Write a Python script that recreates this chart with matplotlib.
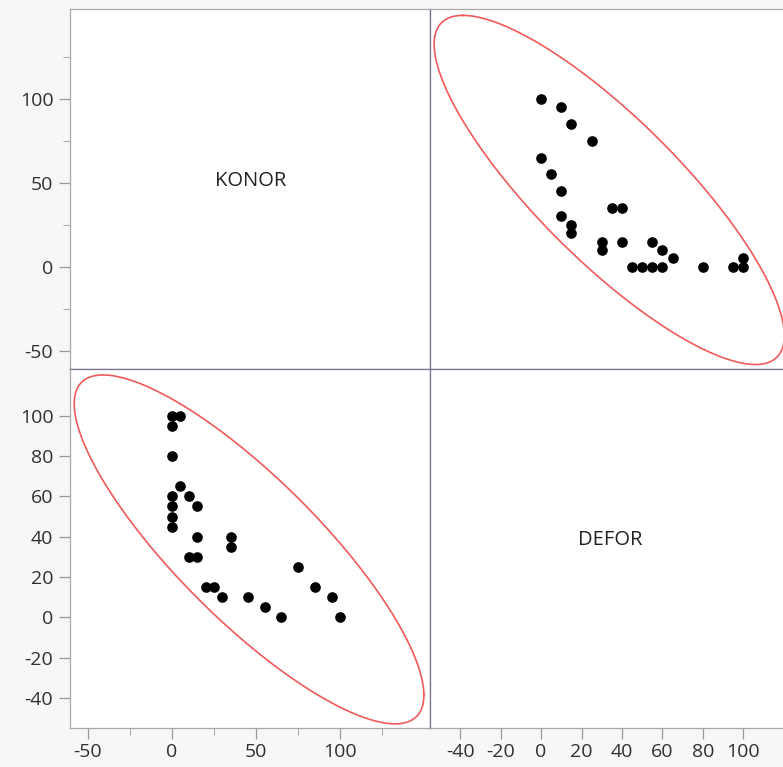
import numpy as np
import matplotlib.pyplot as plt

# Scores per respondent
konor = [100, 95, 85, 75, 65, 55, 45, 35, 35, 30, 25, 20, 15, 10, 15, 15, 10, 5,
         0, 0, 0, 0, 0, 0, 0, 5]
defor = [0, 10, 15, 25, 0, 5, 10, 35, 40, 10, 15, 15, 30, 30, 40, 55, 60, 65,
         45, 50, 55, 60, 80, 95, 100, 100]

# Density ellipse (centre, half extents, correlation) as KONOR / DEFOR
ell_center = (45.8, 33.7)
ell_half = (104.0, 86.6)
ell_rho = -0.835

konor_ticks = [-50, 0, 50, 100]
konor_minor = [-25, 25, 75, 125]
defor_ticks = [-40, -20, 0, 20, 40, 60, 80, 100]

konor_lim = (-60.7, 153.6)
defor_lim = (-54.8, 123.4)

plt.rcParams['font.family'] = ['Open Sans', 'DejaVu Sans']
plt.rcParams['axes.unicode_minus'] = False

t = np.linspace(0, 2 * np.pi, 400)
ell_k = ell_center[0] + ell_half[0] * np.cos(t)
ell_d = ell_center[1] + ell_half[1] * (ell_rho * np.cos(t) + np.sqrt(1 - ell_rho ** 2) * np.sin(t))

fig = plt.figure(figsize=(7.83, 7.67), dpi=100, facecolor='#f7f7f7')
L, M, R = 70 / 783, 430.3 / 783, 790.6 / 783
B, C, T = 39.3 / 767, 398.3 / 767, 758 / 767
ax_tl = fig.add_axes([L, C, M - L, T - C])
ax_tr = fig.add_axes([M, C, R - M, T - C])
ax_bl = fig.add_axes([L, B, M - L, C - B])
ax_br = fig.add_axes([M, B, R - M, C - B])

outer = '#a8a8a8'
inner = '#74748a'
for ax in (ax_tl, ax_tr, ax_bl, ax_br):
    ax.set_facecolor('white')
    for s in ax.spines.values():
        s.set_linewidth(0.9)
        s.set_color(inner)
    ax.tick_params(length=0, labelleft=False, labelbottom=False)

ax_tl.spines['top'].set_color(outer)
ax_tl.spines['left'].set_color(outer)
ax_tr.spines['top'].set_color(outer)
ax_bl.spines['left'].set_color(outer)
ax_bl.spines['bottom'].set_color(outer)
ax_br.spines['bottom'].set_color(outer)

# KONOR vs DEFOR
ax_tr.plot(ell_d, ell_k, color='#f05a5a', lw=1.2, zorder=2)
ax_tr.scatter(defor, konor, s=44, color='black', zorder=3)
ax_tr.set_xlim(defor_lim)
ax_tr.set_ylim(konor_lim)

# DEFOR vs KONOR
ax_bl.plot(ell_k, ell_d, color='#f05a5a', lw=1.2, zorder=2)
ax_bl.scatter(konor, defor, s=44, color='black', zorder=3)
ax_bl.set_xlim(konor_lim)
ax_bl.set_ylim(defor_lim)

ax_tl.set_xlim(konor_lim)
ax_tl.set_ylim(konor_lim)
ax_br.set_xlim(defor_lim)
ax_br.set_ylim(defor_lim)

ax_tl.text(0.5, 0.522, 'KONOR', transform=ax_tl.transAxes, ha='center', va='center',
           fontsize=14.5, color='#222222')
ax_br.text(0.5, 0.522, 'DEFOR', transform=ax_br.transAxes, ha='center', va='center',
           fontsize=14.5, color='#222222')

tick_kw = dict(colors='#999999', labelcolor='#303030', labelsize=14, width=0.9)

ax_tl.set_yticks(konor_ticks)
ax_tl.set_yticks(konor_minor, minor=True)
ax_tl.tick_params(axis='y', which='major', direction='out', length=8, pad=4,
                  labelleft=True, **tick_kw)
ax_tl.tick_params(axis='y', which='minor', direction='out', length=5, colors='#999999')

ax_bl.set_yticks(defor_ticks)
ax_bl.tick_params(axis='y', direction='out', length=8, pad=4, labelleft=True, **tick_kw)

ax_bl.set_xticks(konor_ticks)
ax_bl.set_xticks(konor_minor, minor=True)
ax_bl.tick_params(axis='x', which='major', direction='out', length=8, pad=3,
                  labelbottom=True, **tick_kw)
ax_bl.tick_params(axis='x', which='minor', direction='out', length=5, colors='#999999')

ax_br.set_xticks(defor_ticks)
ax_br.tick_params(axis='x', direction='out', length=8, pad=3, labelbottom=True, **tick_kw)

# panels without their own scale
ax_tr.set_xticks([])
ax_tr.set_yticks([])
ax_tl.set_xticks([])
ax_br.set_yticks([])

fig.savefig('out.png', dpi=100, facecolor=fig.get_facecolor())
